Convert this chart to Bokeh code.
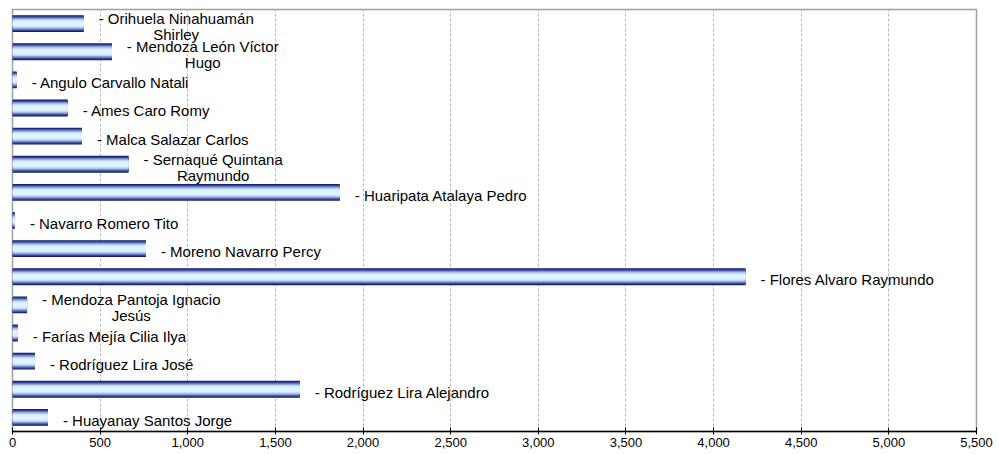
from bokeh.plotting import figure
from bokeh.models import ColumnDataSource, Range1d, FactorRange, NumeralTickFormatter, FixedTicker
from bokeh.core.properties import value
from bokeh.embed import file_html
from bokeh.resources import INLINE

# ---- data (top to bottom as in the chart) ----
labels = [
    "- Orihuela Ninahuamán\nShirley",
    "- Mendoza León Víctor\nHugo",
    "- Angulo Carvallo Natali",
    "- Ames Caro Romy",
    "- Malca Salazar Carlos",
    "- Sernaqué Quintana\nRaymundo",
    "- Huaripata Atalaya Pedro",
    "- Navarro Romero Tito",
    "- Moreno Navarro Percy",
    "- Flores  Alvaro Raymundo",
    "- Mendoza Pantoja Ignacio\nJesús",
    "- Farías Mejía Cilia Ilya",
    "- Rodríguez Lira José",
    "- Rodríguez Lira Alejandro",
    "- Huayanay Santos Jorge",
]
values = [406, 567, 24, 315, 396, 662, 1867, 12, 761, 4182, 83, 30, 128, 1639, 202]
x_ticks = [0, 500, 1000, 1500, 2000, 2500, 3000, 3500, 4000, 4500, 5000, 5500]

categories = [l.replace("\n", " ") for l in labels]

# Arial / Liberation Sans advance widths (per 1000 em) for label centring
W = {' ': 278, '-': 333, 'A': 667, 'C': 722, 'F': 611, 'H': 722, 'I': 278, 'J': 500,
     'L': 556, 'M': 833, 'N': 722, 'O': 778, 'P': 667, 'Q': 778, 'R': 722, 'S': 667,
     'V': 667, 'T': 611, 'i': 222, 'j': 222, 'l': 222, 'f': 278, 't': 278, 'r': 333,
     'c': 500, 'k': 500, 's': 500, 'v': 500, 'y': 500, 'z': 500, 'x': 500, 'm': 833,
     'w': 722, 'í': 278}
FS = 15
def text_w(s):
    return sum(W.get(ch, 556) for ch in s) * FS / 1000.0

GAP = 15
xoff = [GAP + max(text_w(line) for line in l.split("\n")) / 2.0 for l in labels]

src = ColumnDataSource(dict(cat=categories, val=values, label=labels, xoff=xoff))

p = figure(width=995, height=455, output_backend="svg", toolbar_location=None,
           x_range=Range1d(0, 5500), y_range=FactorRange(*categories[::-1]),
           min_border_left=12, min_border_right=19, min_border_top=9, min_border_bottom=24)
p.y_range.range_padding = 0

# gradient bars: stacked layers from dark edge to light centre
layer_heights = [0.60, 0.55, 0.50, 0.45, 0.40, 0.35, 0.30, 0.25, 0.20, 0.14]
layer_colors = ["#16166E", "#262E86", "#3D4E9E", "#5A71B7", "#7B95CD",
                "#9DB8E2", "#B8D2F0", "#CBE3F8", "#D8EEFD", "#E0F4FF"]
for h, c in zip(layer_heights, layer_colors):
    p.hbar(y="cat", left=0, right="val", height=h, source=src,
           fill_color=c, line_color=None)

p.text(x="val", y="cat", text="label", x_offset="xoff", y_offset=3, source=src,
       text_align="center", text_baseline="middle", text_font=value("Liberation Sans"),
       text_font_size=f"{FS}px", text_color="#000000", text_line_height=0.95)

p.yaxis.visible = False
p.ygrid.grid_line_color = None

p.xaxis.ticker = FixedTicker(ticks=x_ticks)
p.xaxis.formatter = NumeralTickFormatter(format="0,0")
p.xaxis.axis_line_color = "#000000"
p.xaxis.axis_line_width = 1.5
p.xaxis.major_tick_line_color = "#000000"
p.xaxis.major_tick_in = 4
p.xaxis.major_tick_out = 3
p.xaxis.minor_tick_line_color = None
p.xaxis.major_label_standoff = 3
p.xaxis.major_label_text_font = "Liberation Sans"
p.xaxis.major_label_text_font_size = "13px"
p.xaxis.major_label_text_color = "#000000"

p.xgrid.ticker = FixedTicker(ticks=x_ticks)
p.xgrid.grid_line_color = "#B8B8B8"
p.xgrid.grid_line_dash = "3 2"
p.xgrid.grid_line_width = 1

p.outline_line_color = "#A0A0A0"
p.outline_line_width = 1.5
p.background_fill_color = "#FFFFFF"
p.border_fill_color = "#FFFFFF"

open("out.html", "w").write(file_html(p, INLINE))
